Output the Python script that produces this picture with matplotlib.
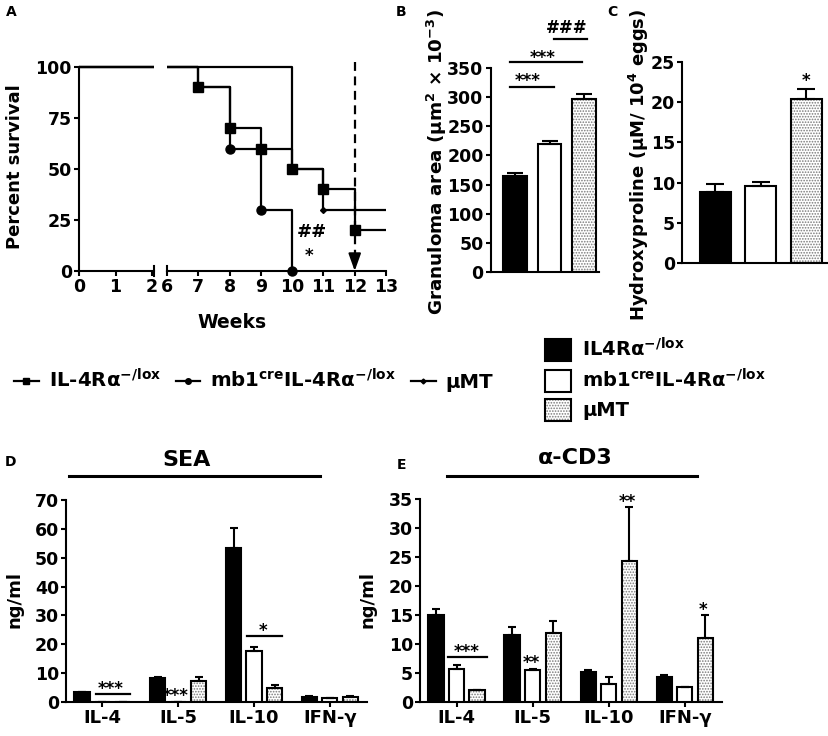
import numpy as np
import matplotlib
matplotlib.use('Agg')
import matplotlib.pyplot as plt
from matplotlib.lines import Line2D
from matplotlib.patches import Patch, Rectangle

plt.rcParams['font.family'] = ['DejaVu Sans']
plt.rcParams['font.weight'] = 'bold'
plt.rcParams['mathtext.fontset'] = 'dejavusans'
plt.rcParams['hatch.color'] = '#7a7a7a'
plt.rcParams['hatch.linewidth'] = 0.8
plt.rcParams['axes.linewidth'] = 1.5

# ---- data ----
# A: survival (Kaplan-Meier steps)
weeks_il4 = [0, 7, 8, 9, 10, 11, 12, 13]
surv_il4 = [100, 90, 70, 60, 50, 40, 20, 20]
weeks_mb1 = [0, 7, 8, 9, 10]
surv_mb1 = [100, 90, 60, 30, 0]
weeks_mt = [0, 10, 11, 13]
surv_mt = [100, 50, 30, 30]
end_week = 12

# B: granuloma area
gran_mean = [165, 220, 296]
gran_err = [4, 4, 9]
# C: hydroxyproline
hyp_mean = [8.8, 9.6, 20.4]
hyp_err = [1.0, 0.5, 1.3]

# D / E: cytokines
cytokines = ['IL-4', 'IL-5', 'IL-10', 'IFN-γ']
sea_black = [3.3, 8.2, 53.2, 1.8]
sea_black_err = [0.3, 0.4, 7.0, 0.2]
sea_white = [0, 0, 17.6, 1.3]
sea_white_err = [0, 0, 1.4, 0.2]
sea_dot = [0, 7.2, 4.9, 1.7]
sea_dot_err = [0, 1.5, 1.0, 0.3]

cd3_black = [15.0, 11.6, 5.1, 4.2]
cd3_black_err = [1.0, 1.4, 0.4, 0.5]
cd3_white = [5.6, 5.4, 3.0, 2.5]
cd3_white_err = [0.8, 0.2, 1.3, 0.0]
cd3_dot = [2.0, 11.8, 24.4, 11.1]
cd3_dot_err = [0.1, 2.2, 9.3, 3.9]

lab_il4 = r'IL-4Rα$^{\mathbf{-/lox}}$'
lab_il4b = r'IL4Rα$^{\mathbf{-/lox}}$'
lab_mb1 = r'mb1$^{\mathbf{cre}}$IL-4Rα$^{\mathbf{-/lox}}$'
lab_mt = 'μMT'

W, H = 829, 736
fig = plt.figure(figsize=(W / 100, H / 100), dpi=100)


def px_axes(x0, y0, x1, y1):
    return fig.add_axes([x0 / W, 1 - y1 / H, (x1 - x0) / W, (y1 - y0) / H])


def style(ax):
    ax.spines['top'].set_visible(False)
    ax.spines['right'].set_visible(False)
    ax.tick_params(direction='out', length=3.6, width=1.5, labelsize=12.5, pad=1.5)


def ftext(x, y, s, **kw):
    fig.text(x / W, 1 - y / H, s, **kw)


def draw_bars(ax, x, vals, errs, kind, width, capsize):
    if kind == 'black':
        ax.bar(x, vals, width, color='black', edgecolor='black', linewidth=1.5, zorder=3)
    elif kind == 'white':
        ax.bar(x, vals, width, color='white', edgecolor='black', linewidth=1.5, zorder=3)
    else:
        ax.bar(x, vals, width, color='white', hatch='......', linewidth=0, zorder=2)
        ax.bar(x, vals, width, fill=False, edgecolor='black', linewidth=1.5, zorder=3)
    ax.errorbar(x, vals, yerr=[np.zeros(len(vals)), errs], fmt='none', ecolor='black',
                elinewidth=1.5, capsize=capsize, capthick=1.5, zorder=4)


# ---- A: survival with broken x axis ----
axl = px_axes(79, 67, 154, 271)
axr = px_axes(167, 67, 386, 271)
for ax in (axl, axr):
    style(ax)
    ax.set_ylim(0, 100)
    clip = Rectangle((0, -0.05), 1.0, 1.1, transform=ax.transAxes, visible=False)
    ax.add_patch(clip)
    lines = [
        ax.plot(weeks_mt, surv_mt, drawstyle='steps-post', color='k', lw=1.6,
                marker='D', ms=3, markevery=[1, 2])[0],
        ax.plot(weeks_mb1, surv_mb1, drawstyle='steps-post', color='k', lw=1.6,
                marker='o', ms=6.5, markevery=[1, 2, 3, 4])[0],
        ax.plot(weeks_il4, surv_il4, drawstyle='steps-post', color='k', lw=1.6,
                marker='s', ms=6.5, markevery=[1, 2, 3, 4, 5, 6])[0],
    ]
    for ln in lines:
        ln.set_clip_path(clip)
axl.set_xlim(0, 2.05)
axl.set_xticks([0, 1, 2])
axl.set_yticks([0, 25, 50, 75, 100])
axr.set_xlim(6, 13)
axr.set_xticks(range(6, 14))
axr.spines['left'].set_visible(False)
axr.tick_params(axis='y', left=False, labelleft=False)
# break marks
axl.plot([1, 1], [-0.025, 0.025], transform=axl.transAxes, color='k', lw=1.5, clip_on=False)
axr.plot([0, 0], [0, 0.025], transform=axr.transAxes, color='k', lw=1.5, clip_on=False)

axr.plot([end_week, end_week], [102.5, 8], color='k', lw=1.6, ls=(0, (4, 2.5)), clip_on=False)
axr.annotate('', xy=(end_week, 0), xytext=(end_week, 7),
             arrowprops=dict(arrowstyle='-|>,head_length=0.7,head_width=0.25', color='k',
                             lw=1.5, mutation_scale=15, shrinkA=0, shrinkB=0))
axr.text(10.63, 16.9, '##', ha='center', va='baseline', fontsize=13)
axr.text(10.54, 4.9, '*', ha='center', va='baseline', fontsize=12)

ftext(15, 167, 'Percent survival', rotation=90, ha='center', va='center', fontsize=13)
ftext(232, 322, 'Weeks', ha='center', va='center', fontsize=13.5)

# legend A
hA = [Line2D([], [], color='k', lw=1.6, marker='s', ms=4),
      Line2D([], [], color='k', lw=1.6, marker='o', ms=4),
      Line2D([], [], color='k', lw=1.6, marker='D', ms=2.5)]
fig.legend(hA, [lab_il4, lab_mb1, lab_mt], ncol=3, loc='center left',
           bbox_to_anchor=(14 / W, 1 - 380 / H), frameon=False, fontsize=14.2,
           handlelength=1.25, handletextpad=0.5, columnspacing=0.75,
           borderaxespad=0, borderpad=0)

# ---- B: granuloma area ----
axB = px_axes(490.7, 68, 599, 272)
style(axB)
xb = np.arange(3)
for i, kind in enumerate(['black', 'white', 'dot']):
    draw_bars(axB, [xb[i]], [gran_mean[i]], [gran_err[i]], kind, 0.68, 5.8)
axB.set_xlim(-0.70, 2.43)
axB.set_ylim(0, 350)
axB.set_yticks(range(0, 351, 50))
axB.set_xticks([])
for x0, x1, y, s, tx, ty in [(-0.14, 1.13, 318, '***', 0.38, 319),
                             (-0.14, 1.94, 360, '***', 0.81, 359),
                             (1.13, 2.09, 400, '###', 1.5, 410)]:
    axB.plot([x0, x1], [y, y], color='k', lw=1.6, clip_on=False)
    axB.text(tx, ty, s, ha='center', va='baseline', fontsize=12)
ftext(437, 162, 'Granuloma area (μm$^{\\mathbf{2}}$ × 10$^{\\mathbf{-3}}$)', rotation=90,
      ha='center', va='center', fontsize=13.2)

# ---- C: hydroxyproline ----
axC = px_axes(682, 62, 828, 263)
style(axC)
for i, kind in enumerate(['black', 'white', 'dot']):
    draw_bars(axC, [xb[i]], [hyp_mean[i]], [hyp_err[i]], kind, 0.68, 6.5)
axC.set_xlim(-0.725, 2.48)
axC.set_ylim(0, 25)
axC.set_yticks(range(0, 26, 5))
axC.set_xticks([])
axC.text(2, 22.0, '*', ha='center', va='baseline', fontsize=12)
ftext(639, 165, 'Hydroxyproline (μM/ 10$^{\\mathbf{4}}$ eggs)', rotation=90,
      ha='center', va='center', fontsize=13)

# legend B
dot_fill = Patch(facecolor='white', hatch='......', linewidth=0)
dot_edge = Patch(facecolor='none', edgecolor='black', linewidth=1.5)
hB = [Patch(facecolor='black', edgecolor='black', linewidth=1.5),
      Patch(facecolor='white', edgecolor='black', linewidth=1.5),
      (dot_fill, dot_edge)]
fig.legend(hB, [lab_il4b, lab_mb1, lab_mt], loc='upper left',
           bbox_to_anchor=(545 / W, 1 - 337 / H), frameon=False, fontsize=14,
           handlelength=1.35, handleheight=1.35, labelspacing=0.38, handletextpad=0.55,
           borderaxespad=0, borderpad=0)

# ---- D / E: cytokines ----
xc = np.arange(len(cytokines))
off = 0.27
bw = 0.2


def cyto_panel(ax, black, black_e, white, white_e, dot, dot_e, ymax, step):
    style(ax)
    draw_bars(ax, xc - off, black, black_e, 'black', bw, 3.2)
    draw_bars(ax, xc, white, white_e, 'white', bw, 3.2)
    draw_bars(ax, xc + off, dot, dot_e, 'dot', bw, 3.2)
    ax.set_ylim(0, ymax)
    ax.set_yticks(range(0, ymax + 1, step))
    ax.set_xticks(xc)
    ax.set_xticklabels(cytokines, fontsize=13)
    ax.set_xlim(-0.48, 3.49)


axD = px_axes(66, 500, 367, 702)
cyto_panel(axD, sea_black, sea_black_err, sea_white, sea_white_err, sea_dot, sea_dot_err, 70, 10)
axD.plot([-0.09, 0.36], [2.8, 2.8], color='k', lw=1.6)
axD.text(0.11, 2.8, '***', ha='center', va='baseline', fontsize=12)
axD.text(0.96, 0.5, '***', ha='center', va='baseline', fontsize=12)
axD.plot([1.91, 2.37], [22.9, 22.9], color='k', lw=1.6)
axD.text(2.12, 22.9, '*', ha='center', va='baseline', fontsize=12)
ftext(15, 600, 'ng/ml', rotation=90, ha='center', va='center', fontsize=13)
ftext(187, 460, 'SEA', ha='center', va='center', fontsize=16)
fig.add_artist(Line2D([69 / W, 320 / W], [1 - 476 / H] * 2, color='k', lw=2.2))

axE = px_axes(420, 499.3, 722, 701.7)
cyto_panel(axE, cd3_black, cd3_black_err, cd3_white, cd3_white_err, cd3_dot, cd3_dot_err, 35, 5)
axE.plot([-0.11, 0.40], [7.8, 7.8], color='k', lw=1.6)
axE.text(0.13, 7.8, '***', ha='center', va='baseline', fontsize=12)
axE.text(0.98, 5.8, '**', ha='center', va='baseline', fontsize=12)
axE.text(2.25, 33.7, '**', ha='center', va='baseline', fontsize=12)
axE.text(3.24, 15.0, '*', ha='center', va='baseline', fontsize=12)
ftext(368, 600, 'ng/ml', rotation=90, ha='center', va='center', fontsize=13)
ftext(575, 458, 'α-CD3', ha='center', va='center', fontsize=16)
fig.add_artist(Line2D([447 / W, 697 / W], [1 - 476 / H] * 2, color='k', lw=2.2))

# panel letters
for s, x, y in [('A', 11, 12), ('B', 401, 12), ('C', 612, 12), ('D', 11, 462), ('E', 402, 465)]:
    ftext(x, y, s, ha='center', va='center', fontsize=10)

fig.savefig('out.png', dpi=100)
